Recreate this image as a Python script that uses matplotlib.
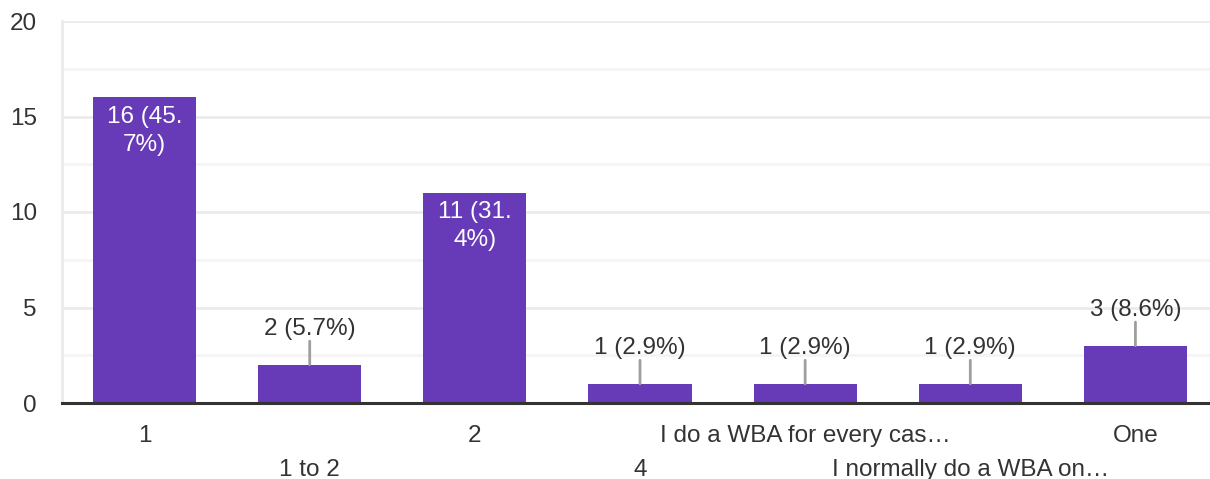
import matplotlib.pyplot as plt
from matplotlib.ticker import MultipleLocator

plt.rcParams['font.family'] = ['Liberation Sans', 'DejaVu Sans']

# --- data
categories = ["1", "1 to 2", "2", "4", "I do a WBA for every cas…",
              "I normally do a WBA on…", "One"]
counts = [16, 2, 11, 1, 1, 1, 3]
labels = ["16 (45.\n7%)", "2 (5.7%)", "11 (31.\n4%)", "1 (2.9%)",
          "1 (2.9%)", "1 (2.9%)", "3 (8.6%)"]
inside = [True, False, True, False, False, False, False]

bar_color = "#673ab7"
text_color = "#333333"
fs = 17.5

fig = plt.figure(figsize=(12.1, 4.79), dpi=100)
ax = fig.add_axes([62 / 1210, 76 / 479, 1156 / 1210, 382 / 479])

x = range(len(categories))
ax.bar(x, counts, width=0.625, color=bar_color, zorder=3)

ax.set_xlim(-0.5, 6.5)
ax.set_ylim(0, 20)
ax.yaxis.set_major_locator(MultipleLocator(5))
ax.yaxis.set_minor_locator(MultipleLocator(2.5))
ax.grid(axis='y', which='major', color='#ebebeb', lw=2, zorder=0)
ax.grid(axis='y', which='minor', color='#f4f4f4', lw=2, zorder=0)

for s in ['top', 'right']:
    ax.spines[s].set_visible(False)
ax.spines['left'].set_color('#ebebeb')
ax.spines['left'].set_linewidth(2)
ax.spines['bottom'].set_color('#333333')
ax.spines['bottom'].set_linewidth(2.2)
ax.spines['bottom'].set_zorder(4)

ax.tick_params(axis='both', which='both', length=0, labelsize=fs,
               labelcolor=text_color)
ax.tick_params(axis='y', pad=18)

ax.set_xticks(list(x))
ax.set_xticklabels(categories)
for i, t in enumerate(ax.xaxis.get_major_ticks()):
    t.set_pad(15.5 if i % 2 == 0 else 40.5)

# --- value labels
for i, (v, lab, ins) in enumerate(zip(counts, labels, inside)):
    if ins:
        ax.annotate(lab, xy=(i, v), xytext=(0, -6), textcoords='offset points',
                    ha='center', va='top', color='white', fontsize=fs,
                    linespacing=1.35, zorder=5)
    else:
        ax.annotate('', xy=(i, v), xytext=(0, 17), textcoords='offset points',
                    arrowprops=dict(arrowstyle='-', color='#9e9e9e', lw=2,
                                    shrinkA=0, shrinkB=0), zorder=5)
        ax.annotate(lab, xy=(i, v), xytext=(0, 25.5), textcoords='offset points',
                    ha='center', va='center', color=text_color, fontsize=fs,
                    zorder=5)

fig.savefig("out.png", dpi=100)
